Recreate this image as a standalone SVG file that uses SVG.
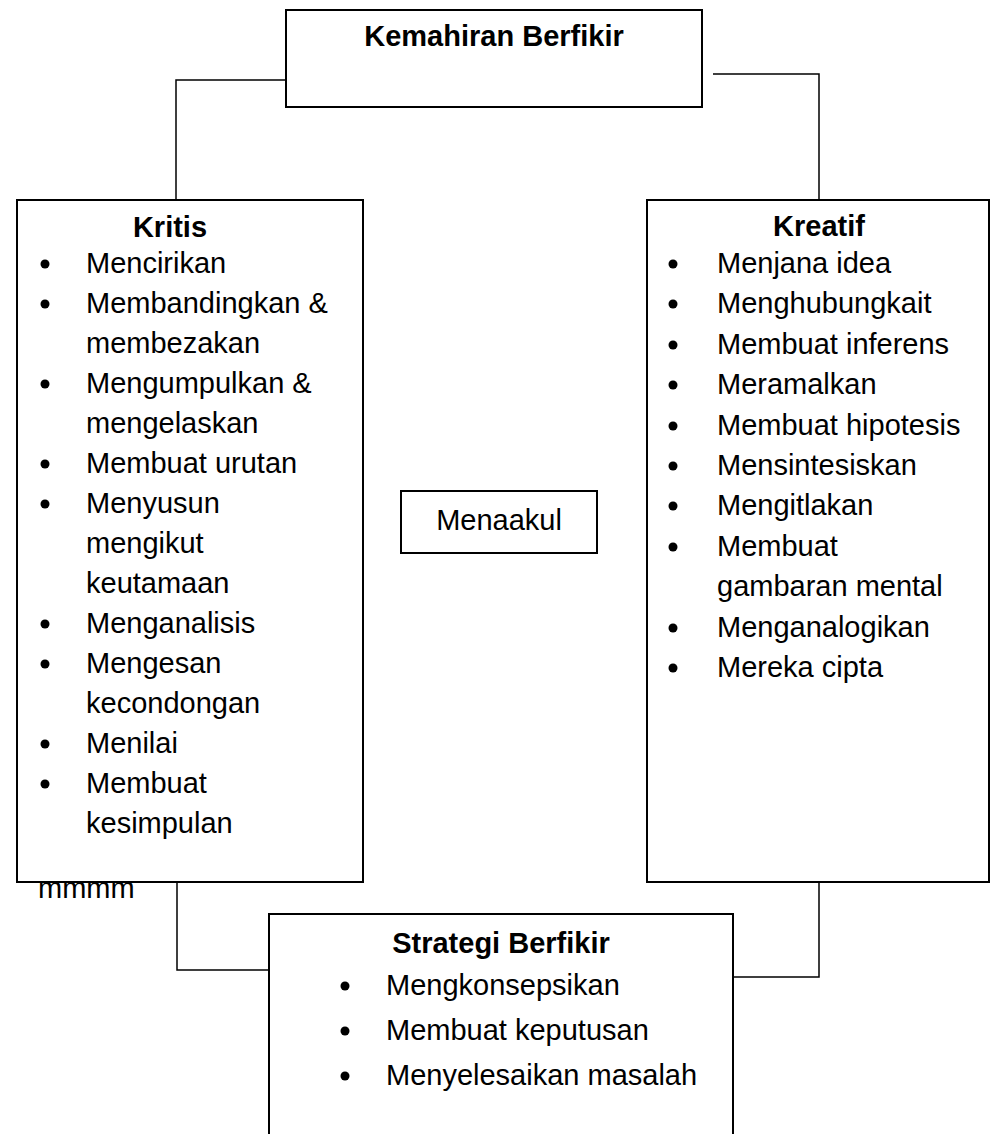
<svg xmlns="http://www.w3.org/2000/svg" width="994" height="1134" viewBox="0 0 994 1134">
<style>
.box{fill:#fff;stroke:#000;stroke-width:2}
.con{fill:none;stroke:#000;stroke-width:1.5}
text{font-family:"Liberation Sans",Arial,sans-serif;font-size:29px;fill:#000}
.t{font-weight:bold}
.b{fill:#000}
</style>
<rect width="994" height="1134" fill="#fff"/>
<g id="connectors">
<polyline class="con" points="286,80 176,80 176,200"/>
<polyline class="con" points="713,74 819,74 819,200"/>
<polyline class="con" points="177,882 177,970 269,970"/>
<polyline class="con" points="819,882 819,977 733,977"/>
</g>
<g id="kemahiran">
<rect class="box" x="286" y="10" width="416" height="97"/>
<text class="t" x="494" y="46" text-anchor="middle">Kemahiran Berfikir</text>
</g>
<g id="kritis">
<rect class="box" x="17" y="200" width="346" height="682"/>
<text class="t" x="170" y="237" text-anchor="middle">Kritis</text>
<g class="b">
<circle cx="45" cy="264" r="4.5"/>
<circle cx="45" cy="304" r="4.5"/>
<circle cx="45" cy="384" r="4.5"/>
<circle cx="45" cy="464" r="4.5"/>
<circle cx="45" cy="504" r="4.5"/>
<circle cx="45" cy="624" r="4.5"/>
<circle cx="45" cy="664" r="4.5"/>
<circle cx="45" cy="744" r="4.5"/>
<circle cx="45" cy="784" r="4.5"/>
</g>
<text x="86" y="273">Mencirikan</text>
<text x="86" y="313">Membandingkan &amp;</text>
<text x="86" y="353">membezakan</text>
<text x="86" y="393">Mengumpulkan &amp;</text>
<text x="86" y="433">mengelaskan</text>
<text x="86" y="473">Membuat urutan</text>
<text x="86" y="513">Menyusun</text>
<text x="86" y="553">mengikut</text>
<text x="86" y="593">keutamaan</text>
<text x="86" y="633">Menganalisis</text>
<text x="86" y="673">Mengesan</text>
<text x="86" y="713">kecondongan</text>
<text x="86" y="753">Menilai</text>
<text x="86" y="793">Membuat</text>
<text x="86" y="833">kesimpulan</text>
</g>
<g id="kreatif">
<rect class="box" x="647" y="200" width="342" height="682"/>
<text class="t" x="819" y="236" text-anchor="middle">Kreatif</text>
<g class="b">
<circle cx="673" cy="264" r="4.5"/>
<circle cx="673" cy="304" r="4.5"/>
<circle cx="673" cy="345" r="4.5"/>
<circle cx="673" cy="385" r="4.5"/>
<circle cx="673" cy="426" r="4.5"/>
<circle cx="673" cy="466" r="4.5"/>
<circle cx="673" cy="506" r="4.5"/>
<circle cx="673" cy="547" r="4.5"/>
<circle cx="673" cy="628" r="4.5"/>
<circle cx="673" cy="668" r="4.5"/>
</g>
<text x="717" y="273">Menjana idea</text>
<text x="717" y="313">Menghubungkait</text>
<text x="717" y="354">Membuat inferens</text>
<text x="717" y="394">Meramalkan</text>
<text x="717" y="435">Membuat hipotesis</text>
<text x="717" y="475">Mensintesiskan</text>
<text x="717" y="515">Mengitlakan</text>
<text x="717" y="556">Membuat</text>
<text x="717" y="596">gambaran mental</text>
<text x="717" y="637">Menganalogikan</text>
<text x="717" y="677">Mereka cipta</text>
</g>
<g id="menaakul">
<rect class="box" x="401" y="491" width="196" height="62"/>
<text x="499" y="530" text-anchor="middle">Menaakul</text>
</g>
<g id="strategi">
<path class="box" d="M269,1134 V914 H733 V1134"/>
<text class="t" x="501" y="953" text-anchor="middle">Strategi Berfikir</text>
<g class="b">
<circle cx="345" cy="986" r="4.5"/>
<circle cx="345" cy="1031" r="4.5"/>
<circle cx="345" cy="1076" r="4.5"/>
</g>
<text x="386" y="995">Mengkonsepsikan</text>
<text x="386" y="1040">Membuat keputusan</text>
<text x="386" y="1085">Menyelesaikan masalah</text>
</g>
<text x="38" y="898">mmmm</text>
</svg>
